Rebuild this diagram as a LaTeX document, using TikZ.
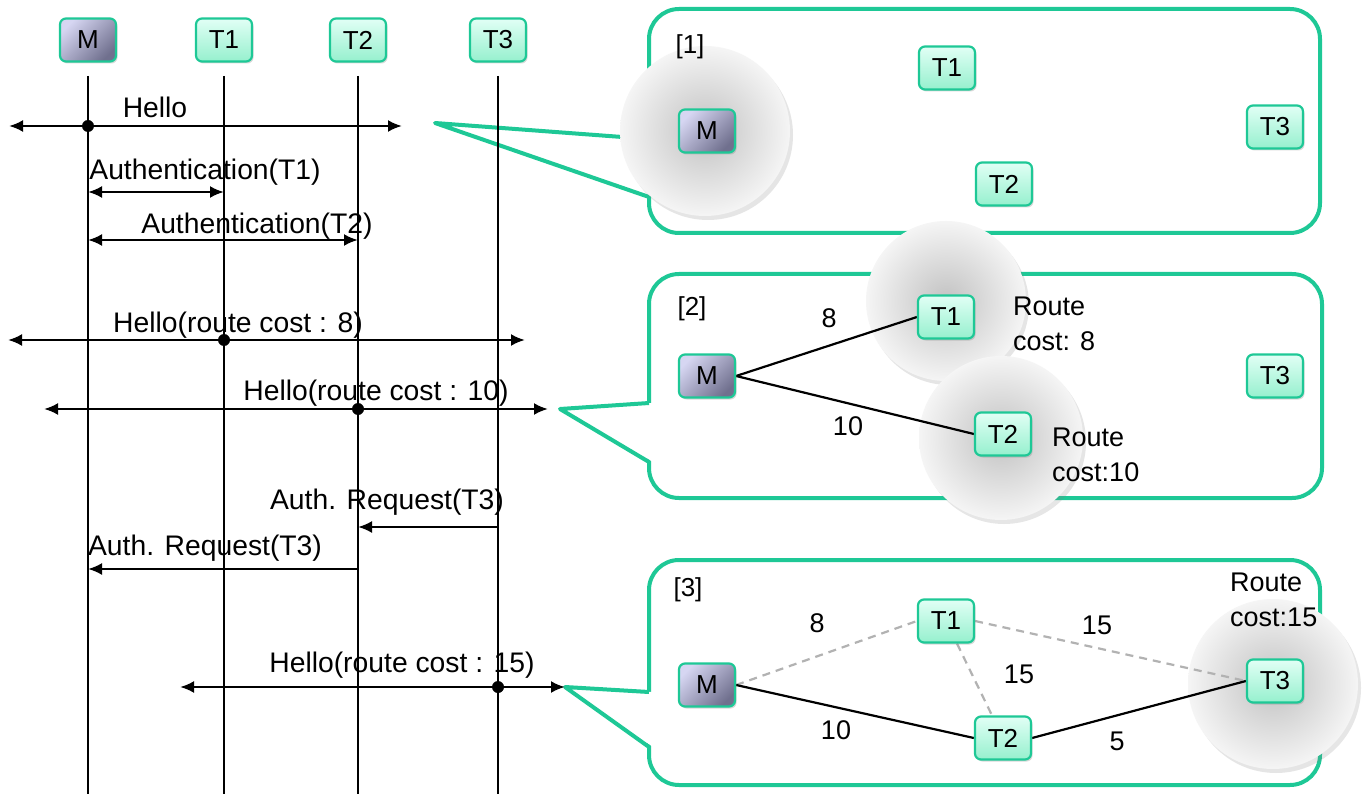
\documentclass[tikz,border=0pt]{standalone}
\usepackage{fontspec}
\setmainfont{Liberation Sans}
\usetikzlibrary{arrows.meta,shadows,calc}
\definecolor{tealedge}{RGB}{30,200,150}
\definecolor{mintlight}{RGB}{225,255,245}
\definecolor{mintdark}{RGB}{150,240,206}
\definecolor{lavlight}{RGB}{214,214,242}
\definecolor{lavdark}{RGB}{112,112,142}
\pgfdeclarelayer{panels}
\pgfdeclarelayer{balls}
\pgfdeclarelayer{links}
\pgfsetlayers{panels,balls,links,main}
\tikzset{
  txt/.style={inner sep=0pt, font=\fontsize{28.3}{34}\selectfont},
  num/.style={inner sep=0pt, font=\fontsize{27}{30}\selectfont},
  tag/.style={inner sep=0pt, font=\fontsize{26}{28}\selectfont},
  note/.style={inner sep=0pt, anchor=west, align=left, font=\fontsize{27}{35}\selectfont},
  tbox/.style={draw=tealedge, line width=2.2pt, rounded corners=6pt,
    minimum width=56pt, minimum height=43pt, inner sep=0pt,
    top color=mintlight, bottom color=mintdark,
    font=\fontsize{26}{28}\selectfont,
    drop shadow={opacity=0.3, shadow xshift=1.5pt, shadow yshift=-2pt}},
  mbox/.style={tbox, top color=lavlight, bottom color=lavdark, shading angle=45},
  lifeline/.style={line width=2.2pt},
  msg/.style={line width=2.4pt, {Latex[length=14pt,width=12pt]}-{Latex[length=14pt,width=12pt]}},
  onemsg/.style={line width=2.2pt, -{Latex[length=14pt,width=12pt]}},
  dot/.style={circle, fill=black, inner sep=0pt, minimum size=12pt},
  panel/.style={draw=tealedge, line width=4pt, fill=white},
  ball/.style={inner color=black!24, outer color=black!4,
    drop shadow={opacity=0.2, shadow xshift=3pt, shadow yshift=-4pt}},
  link/.style={line width=2.2pt},
  dimlink/.style={line width=2.2pt, black!30, dash pattern=on 8pt off 6pt},
}
\begin{document}
\begin{tikzpicture}[x=1pt,y=-1pt]
\useasboundingbox (0,0) rectangle (1362,794);

% ---------- message sequence ----------
\node[mbox] (hm)  at (88,40)  {M};
\node[tbox] (ht1) at (224,40) {T1};
\node[tbox] (ht2) at (358,40) {T2};
\node[tbox] (ht3) at (498,40) {T3};

\foreach \h in {hm,ht1,ht2,ht3}{
  \draw[lifeline] (\h |- 0,76) -- (\h |- 0,794);
}

% Hello
\coordinate (a1) at (9,126);   \coordinate (b1) at (402,126);
\draw[msg] (a1) -- (b1);
\node[dot] (d1) at (hm |- 0,126) {};
\node[txt] (l1) at (155,107) {Hello};

% Authentication(T1)
\draw[msg] (hm |- 0,192) -- (ht1 |- 0,192);
\node[txt] (l2) at (205,172) {Authentication(T1)};

% Authentication(T2)
\draw[msg] (hm |- 0,240) -- (ht2 |- 0,240);
\node[txt] (l3) at (257,226) {Authentication(T2)};

% Hello(route cost : 8)
\coordinate (a4) at (8,340);   \coordinate (b4) at (525,340);
\draw[msg] (a4) -- (b4);
\node[dot] (d4) at (ht1 |- 0,340) {};
\node[txt] (l4) at (238,325) {Hello(route cost : 8)};

% Hello(route cost : 10)
\coordinate (a5) at (44,409);  \coordinate (b5) at (548,409);
\draw[msg] (a5) -- (b5);
\node[dot] (d5) at (ht2 |- 0,409) {};
\node[txt] (l5) at (376,393) {Hello(route cost : 10)};

% Auth. Request(T3): T3 -> T2 -> M
\draw[onemsg] (ht3 |- 0,527) -- (ht2 |- 0,527);
\node[txt] (l6) at (387,502) {Auth. Request(T3)};
\draw[onemsg] (ht2 |- 0,569) -- (hm |- 0,569);
\node[txt] (l7) at (205,548) {Auth. Request(T3)};

% Hello(route cost : 15)
\coordinate (a8) at (180,687); \coordinate (b8) at (565,687);
\draw[msg] (a8) -- (b8);
\node[dot] (d8) at (ht3 |- 0,687) {};
\node[txt] (l8) at (402,665) {Hello(route cost : 15)};

% ---------- callout panels ----------
\begin{pgfonlayer}{panels}
  % panel 1
  \draw[panel, rounded corners=30pt] (649,9) rectangle (1320,233);
  \fill[white] (435,123) -- (653,139) -- (653,197) -- cycle;
  \draw[panel, fill=none, line join=round] (649,139) -- (435,123) -- (649,197);
  % panel 2
  \draw[panel, rounded corners=30pt] (649,274) rectangle (1322,498);
  \fill[white] (560,409) -- (653,403) -- (653,462) -- cycle;
  \draw[panel, fill=none, line join=round] (649,403) -- (560,409) -- (649,462);
  % panel 3
  \draw[panel, rounded corners=30pt] (649,560) rectangle (1320,785);
  \fill[white] (565,687) -- (653,692) -- (653,747) -- cycle;
  \draw[panel, fill=none, line join=round] (649,692) -- (565,687) -- (649,747);
\end{pgfonlayer}

\begin{pgfonlayer}{balls}
  \shade[ball] (705,131) circle (85);
  \shade[ball] (946,301) circle (80);
  \shade[ball] (1001,438) circle (82);
  \shade[ball] (1273,684) circle (85);
\end{pgfonlayer}

% panel 1 content
\node[tag] (n1) at (690,47) {[1]};
\node[mbox] (p1m)  at (707,131) {M};
\node[tbox] (p1t1) at (947,68)  {T1};
\node[tbox] (p1t2) at (1004,184) {T2};
\node[tbox] (p1t3) at (1275,127) {T3};

% panel 2 content
\node[tag] (n2) at (692,309) {[2]};
\node[mbox] (p2m)  at (707,376) {M};
\node[tbox] (p2t1) at (946,317) {T1};
\node[tbox] (p2t2) at (1003,434) {T2};
\node[tbox] (p2t3) at (1275,376) {T3};
\begin{pgfonlayer}{links}
  \draw[link] (p2m.east) -- (p2t1.west);
  \draw[link] (p2m.east) -- (p2t2.west);
\end{pgfonlayer}
\node[num] (c21) at (829,318) {8};
\node[num] (c22) at (848,426) {10};
\node[note] (r21) at (1013,324) {Route\\cost: 8};
\node[note] (r22) at (1052,455) {Route\\cost:10};

% panel 3 content
\node[tag] (n3) at (688,590) {[3]};
\node[mbox] (p3m)  at (707,685) {M};
\node[tbox] (p3t1) at (946,621) {T1};
\node[tbox] (p3t2) at (1003,738) {T2};
\node[tbox] (p3t3) at (1275,681) {T3};
\begin{pgfonlayer}{links}
  \draw[dimlink] (p3m.east) -- (p3t1.west);
  \draw[dimlink] (p3t1.east) -- (p3t3.west);
  \draw[dimlink] (p3t1) -- (p3t2);
  \draw[link] (p3m.east) -- (p3t2.west);
  \draw[link] (p3t2.east) -- (p3t3.west);
\end{pgfonlayer}
\node[num] (c31) at (817,623) {8};
\node[num] (c32) at (1097,625) {15};
\node[num] (c33) at (1019,674) {15};
\node[num] (c34) at (836,730) {10};
\node[num] (c35) at (1117,741) {5};
\node[note] (r3) at (1230,600) {Route\\cost:15};
\end{tikzpicture}
\end{document}
